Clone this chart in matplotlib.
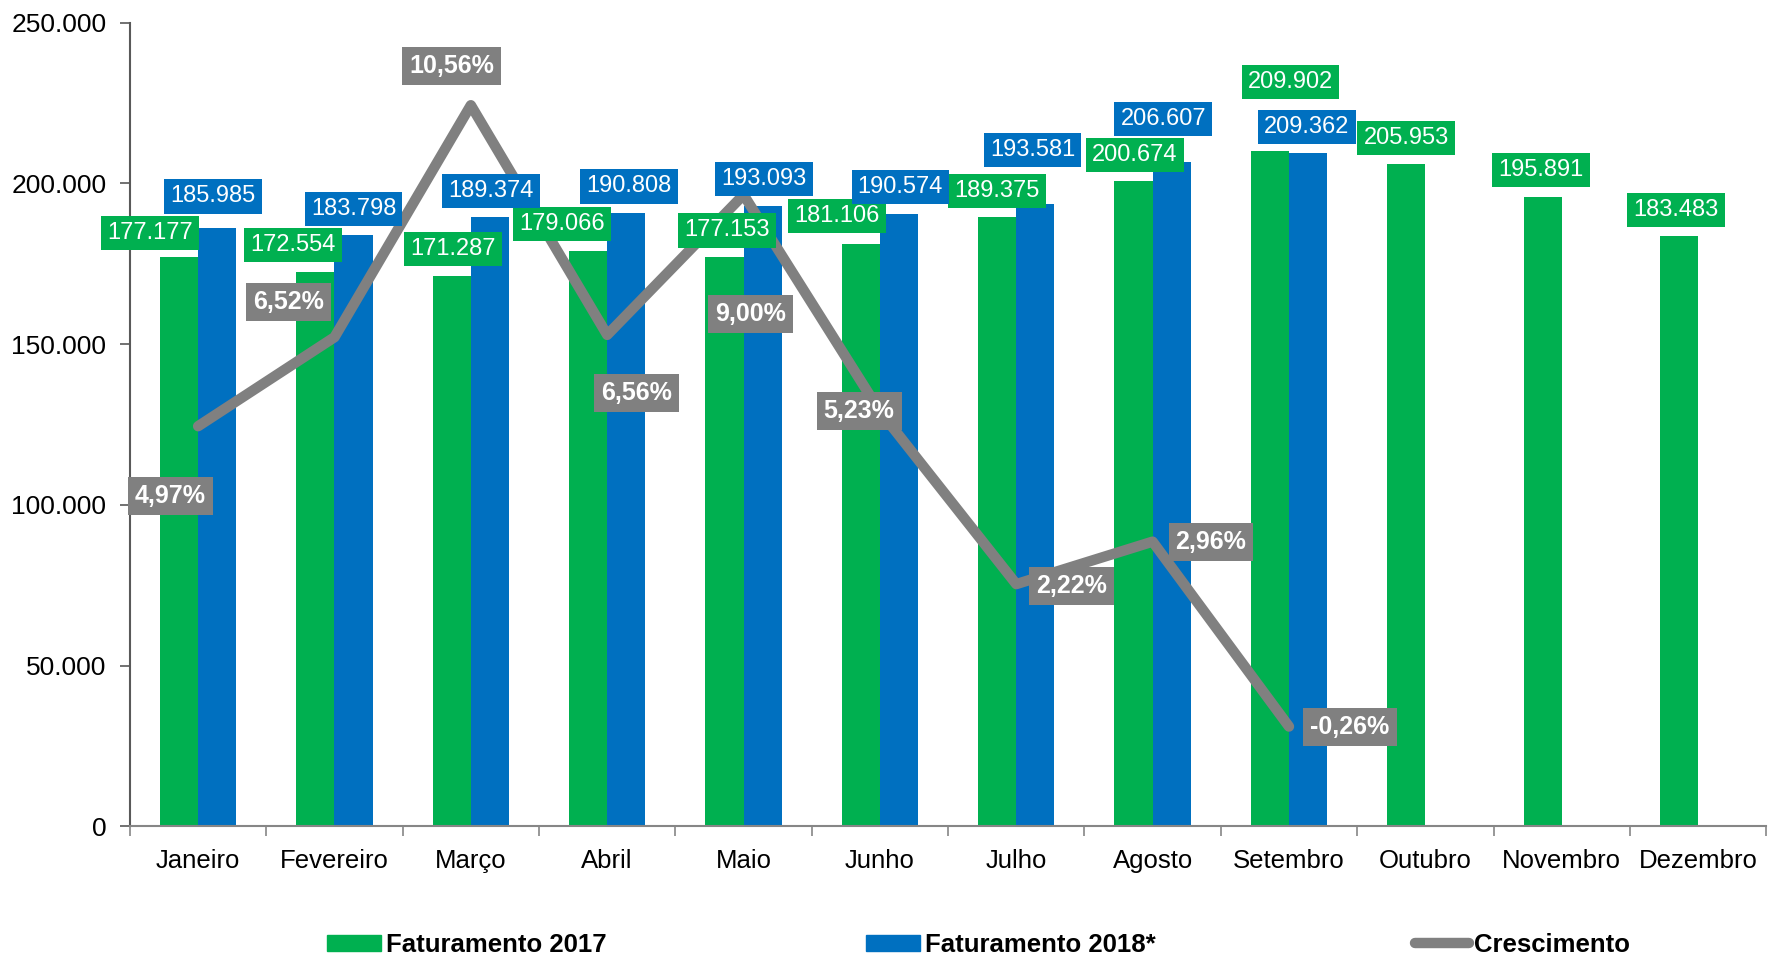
import numpy as np
import matplotlib
matplotlib.use('Agg')
import matplotlib.pyplot as plt
from matplotlib.ticker import FuncFormatter, FixedLocator
from matplotlib.patches import Patch
from matplotlib.lines import Line2D

plt.rcParams['font.family'] = ['Liberation Sans', 'DejaVu Sans']

# data
meses = ['Janeiro', 'Fevereiro', 'Março', 'Abril', 'Maio', 'Junho', 'Julho',
         'Agosto', 'Setembro', 'Outubro', 'Novembro', 'Dezembro']
fat_2017 = [177177, 172554, 171287, 179066, 177153, 181106, 189375,
            200674, 209902, 205953, 195891, 183483]
fat_2018 = [185985, 183798, 189374, 190808, 193093, 190574, 193581,
            206607, 209362]
crescimento = [4.97, 6.52, 10.56, 6.56, 9.00, 5.23, 2.22, 2.96, -0.26]

# label offsets in points (dx, dy) from bar top / line point
off_2017 = [(-21, 17), (-16, 19), (1, 19), (-19, 19), (2, 19), (-17, 20),
            (0, 19), (1, 19), (15, 50), (0, 19), (-1, 19), (-2, 19)]
off_2018 = [(-3, 23), (0, 19), (1, 19), (2, 19), (1, 19), (1, 19),
            (-2, 39), (-6, 31), (-1, 19)]
off_cresc = [(-20, -50), (-33, 25), (-14, 28), (21, -42), (5, -86),
             (-15, 0), (40, -1), (42, 0), (44, 0)]

verde = '#00B050'
azul = '#0070C0'
cinza = '#808080'

fig = plt.figure(figsize=(17.68, 9.58), dpi=100)
ax = fig.add_axes([0.0735, 0.1373, 0.9255, 0.8392])
ax2 = ax.twinx()

x = np.arange(len(meses))
w = 0.28
ax.bar(x - w / 2, fat_2017, w, color=verde)
x18 = np.arange(len(fat_2018))
ax.bar(x18 + w / 2, fat_2018, w, color=azul)

ax.set_xlim(-0.5, len(meses) - 0.5)
ax.set_ylim(0, 250000)
ax.set_yticks(np.arange(0, 250001, 50000))
ax.yaxis.set_major_formatter(FuncFormatter(
    lambda v, p: f'{int(v):,}'.replace(',', '.')))
ax.set_xticks(x)
ax.set_xticklabels(meses)
ax.xaxis.set_minor_locator(FixedLocator(np.arange(-0.5, len(meses), 1)))
ax.tick_params(axis='x', which='major', length=0, pad=16, labelsize=18.5)
ax.tick_params(axis='x', which='minor', length=7, width=1.2, color='#868686')
ax.tick_params(axis='y', length=7, width=1.2, color='#595959', pad=10,
               labelsize=19)

for s in ['top', 'right']:
    ax.spines[s].set_visible(False)
    ax2.spines[s].set_visible(False)
ax2.spines['left'].set_visible(False)
ax2.spines['bottom'].set_visible(False)
ax.spines['left'].set_color('#595959')
ax.spines['left'].set_linewidth(1.5)
ax.spines['bottom'].set_color('#868686')
ax.spines['bottom'].set_linewidth(1.5)

ax2.plot(x18, crescimento, color=cinza, lw=7.5,
         solid_capstyle='round', solid_joinstyle='round', zorder=2)
ax2.set_ylim(-2, 12)
ax2.set_yticks([])

# value labels
def fmt(v):
    return f'{v:,}'.replace(',', '.')

for i, v in enumerate(fat_2017):
    ax2.annotate(fmt(v), xy=(x[i] - w / 2, v), xycoords=ax.transData,
                 xytext=off_2017[i], textcoords='offset points',
                 ha='center', va='center', color='white', fontsize=17,
                 bbox=dict(boxstyle='square,pad=0.26', fc=verde, ec='none'),
                 zorder=5)
for i, v in enumerate(fat_2018):
    ax2.annotate(fmt(v), xy=(x18[i] + w / 2, v), xycoords=ax.transData,
                 xytext=off_2018[i], textcoords='offset points',
                 ha='center', va='center', color='white', fontsize=17,
                 bbox=dict(boxstyle='square,pad=0.26', fc=azul, ec='none'),
                 zorder=5)
for i, v in enumerate(crescimento):
    txt = f'{v:.2f}%'.replace('.', ',')
    ax2.annotate(txt, xy=(x18[i], v), xytext=off_cresc[i],
                 textcoords='offset points', ha='center', va='center',
                 color='white', fontsize=18, fontweight='bold',
                 bbox=dict(boxstyle='square,pad=0.28', fc=cinza, ec='none'),
                 zorder=5)

handles = [Patch(color=verde), Patch(color=azul),
           Line2D([], [], color=cinza, lw=7.5, solid_capstyle='round')]
labels = ['Faturamento 2017', 'Faturamento 2018*', 'Crescimento']
fig.legend(handles, labels, ncol=3, loc='center', mode='expand',
           bbox_to_anchor=(327 / 1768, 0.0, (1630 - 327) / 1768, 0.027),
           frameon=False, borderpad=0, borderaxespad=0,
           prop={'weight': 'bold', 'size': 18.5},
           handlelength=2.1, handletextpad=0.2, handleheight=0.6)

fig.savefig('out.png', dpi=100)
